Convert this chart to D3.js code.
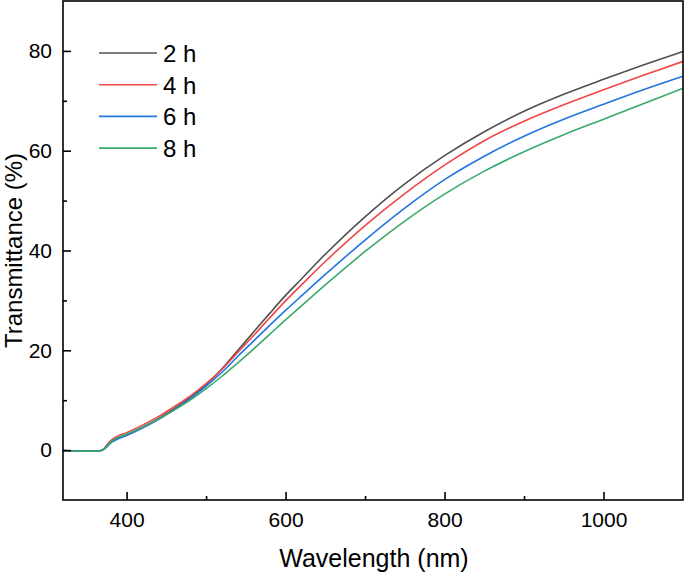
<!DOCTYPE html>
<html>
<head>
<meta charset="utf-8">
<script src="https://cdn.jsdelivr.net/npm/d3@7"></script>
<style>
  html, body { margin: 0; padding: 0; background: #fff; }
  svg { display: block; font-family: "Liberation Sans", Arial, sans-serif; }
</style>
</head>
<body>
<svg id="chart" width="685" height="573"></svg>
<script>
const wavelengths = [320, 340, 360, 368, 372, 376, 380, 385, 390, 400, 420, 440, 460, 480, 500, 520, 540, 560, 580, 600, 620, 650, 700, 750, 800, 850, 900, 950, 1000, 1050, 1100];
const t2h = [-0.1, -0.2, -0.2, -0.1, 0.3, 1.0, 1.6, 2.1, 2.5, 3.1, 4.6, 6.3, 8.3, 10.5, 13.1, 16.3, 20.0, 23.7, 27.4, 31.0, 34.3, 39.25, 46.75, 53.35, 59.0, 63.8, 67.9, 71.3, 74.3, 77.15, 79.9];
const t4h = [-0.1, -0.2, -0.2, -0.1, 0.4, 1.2, 1.9, 2.5, 2.9, 3.5, 5.0, 6.7, 8.7, 10.8, 13.3, 16.2, 19.6, 23.0, 26.5, 29.9, 33.1, 37.8, 45.0, 51.4, 57.1, 62.0, 65.9, 69.2, 72.2, 75.1, 77.9];
const t6h = [-0.1, -0.2, -0.2, -0.1, 0.2, 0.8, 1.4, 1.9, 2.3, 2.9, 4.4, 6.1, 8.1, 10.3, 12.8, 15.6, 18.8, 21.9, 25.0, 28.0, 30.9, 35.2, 42.1, 48.5, 54.2, 58.9, 62.9, 66.3, 69.3, 72.2, 74.9];
const t8h = [-0.1, -0.2, -0.2, -0.1, 0.3, 1.0, 1.6, 2.2, 2.6, 3.2, 4.6, 6.2, 8.0, 10.0, 12.3, 14.8, 17.5, 20.3, 23.2, 26.1, 28.9, 33.1, 39.8, 45.9, 51.3, 55.9, 59.8, 63.2, 66.3, 69.4, 72.5];
const seriesNames = ["2 h", "4 h", "6 h", "8 h"];
const seriesColors = ["#505050", "#f24545", "#2175e0", "#3aaa6b"];
const xMajorTicks = [400, 600, 800, 1000];
const xMinorTicks = [500, 700, 900];
const yMajorTicks = [0, 20, 40, 60, 80];
const yMinorTicks = [10, 30, 50, 70];

const seriesValues = [t2h, t4h, t6h, t8h];

const svg = d3.select("#chart");
const L = 63, R = 683, T = 1, B = 500;
const x = d3.scaleLinear().domain([320, 1100]).range([L, R]);
const y = d3.scaleLinear().domain([-10, 90]).range([B, T]);

// curves
const line = d3.line().x(d => x(d[0])).y(d => y(d[1])).curve(d3.curveCatmullRom.alpha(0.5));
const plot = svg.append("g");
seriesValues.forEach((vals, i) => {
  const pts = wavelengths.map((w, j) => [w, vals[j]]);
  plot.append("path").datum(pts)
    .attr("d", line)
    .attr("fill", "none")
    .attr("stroke", seriesColors[i])
    .attr("stroke-width", 1.6);
});

// axes
const xAxis = d3.axisBottom(x).tickValues(xMajorTicks).tickSize(-8).tickPadding(12).tickFormat(d3.format("d"));
const gx = svg.append("g").attr("transform", `translate(0,${B})`).call(xAxis);
const xAxisMinor = d3.axisBottom(x).tickValues(xMinorTicks).tickSize(-4).tickFormat("");
const gxm = svg.append("g").attr("transform", `translate(0,${B})`).call(xAxisMinor);

const yAxis = d3.axisLeft(y).tickValues(yMajorTicks).tickSize(-8).tickPadding(11).tickFormat(d3.format("d"));
const gy = svg.append("g").attr("transform", `translate(${L},0)`).call(yAxis);
const yAxisMinor = d3.axisLeft(y).tickValues(yMinorTicks).tickSize(-4).tickFormat("");
const gym = svg.append("g").attr("transform", `translate(${L},0)`).call(yAxisMinor);

[gx, gxm, gy, gym].forEach(g => {
  g.select(".domain").remove();
  g.selectAll(".tick line").attr("stroke", "#000").attr("stroke-width", 1.6);
  g.selectAll(".tick text").attr("fill", "#000").style("font-size", "21px").style("font-family", "Liberation Sans, Arial, sans-serif");
});

// frame
svg.append("rect")
  .attr("x", L).attr("y", T)
  .attr("width", R - L).attr("height", B - T)
  .attr("fill", "none").attr("stroke", "#000").attr("stroke-width", 1.6);

// axis titles
svg.append("text")
  .attr("x", (L + R) / 2 + 1).attr("y", 567)
  .attr("text-anchor", "middle")
  .style("font-size", "25px")
  .text("Wavelength (nm)");

svg.append("text")
  .attr("transform", `translate(22,${(T + B) / 2}) rotate(-90)`)
  .attr("text-anchor", "middle")
  .style("font-size", "24px")
  .text("Transmittance (%)");

// legend
const legend = svg.append("g");
seriesNames.forEach((name, i) => {
  const ly = 53 + i * 31.7;
  legend.append("line")
    .attr("x1", 99).attr("x2", 157)
    .attr("y1", ly).attr("y2", ly)
    .attr("stroke", seriesColors[i]).attr("stroke-width", 1.6);
  legend.append("text")
    .attr("x", 163).attr("y", ly + 9)
    .style("font-size", "24px")
    .text(name);
});
</script>
</body>
</html>
